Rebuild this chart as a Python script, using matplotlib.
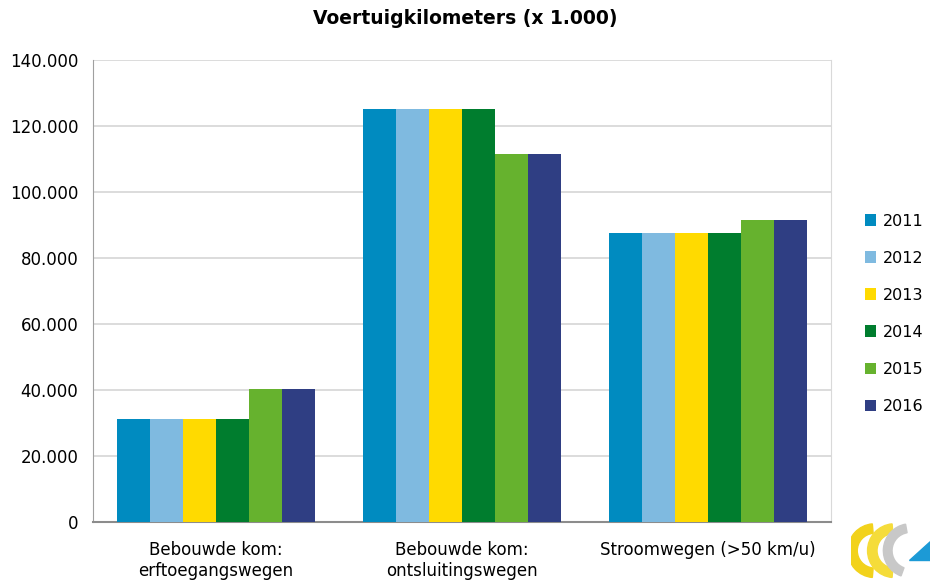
import matplotlib.pyplot as plt
import numpy as np
from matplotlib.ticker import FuncFormatter, MultipleLocator
from matplotlib.patches import Wedge, Polygon

categories = ["Bebouwde kom:\nerftoegangswegen", "Bebouwde kom:\nontsluitingswegen", "Stroomwegen (>50 km/u)"]
years = ["2011", "2012", "2013", "2014", "2015", "2016"]
values = {
    "2011": [31300, 125300, 87700],
    "2012": [31300, 125300, 87700],
    "2013": [31300, 125300, 87700],
    "2014": [31300, 125300, 87700],
    "2015": [40200, 111500, 91500],
    "2016": [40200, 111500, 91500],
}
colors = ["#008bc0", "#7fbae0", "#ffda00", "#007d2e", "#66b22e", "#2f3e83"]

fig = plt.figure(figsize=(9.3, 5.83), dpi=100)
ax = fig.add_axes([0.1, 0.1046, 0.7935, 0.7924])

x = np.arange(len(categories))
bw = 0.134
for i, yr in enumerate(years):
    ax.bar(x + (i - 2.5) * bw, values[yr], width=bw, color=colors[i], label=yr, zorder=3)

ax.set_xlim(-0.5, 2.5)
ax.set_ylim(0, 140000)
ax.yaxis.set_major_locator(MultipleLocator(20000))
ax.yaxis.set_major_formatter(FuncFormatter(lambda v, p: f"{v:,.0f}".replace(",", ".")))
ax.grid(axis="y", color="#d9d9d9", linewidth=1.3, zorder=0)
ax.set_xticks(x)
ax.set_xticklabels(categories, fontsize=12, linespacing=1.2)
ax.tick_params(axis="both", length=0, labelsize=12)
ax.tick_params(axis="x", pad=14)
ax.tick_params(axis="y", pad=10.5)
ax.spines["top"].set_visible(False)
ax.spines["left"].set_color("#a0a0a0")
ax.spines["right"].set_color("#d9d9d9")
ax.spines["bottom"].set_color("#8c8c8c")
ax.spines["bottom"].set_linewidth(1.5)

fig.text(0.5, 0.969, "Voertuigkilometers (x 1.000)", ha="center", va="center",
         fontsize=13.5, fontweight="bold")

fig.legend(loc="center left", bbox_to_anchor=(0.93, 0.462), frameon=False,
           fontsize=11.5, handlelength=0.7, handleheight=0.7, handletextpad=0.4,
           labelspacing=1.38, borderpad=0, borderaxespad=0)

# logo in the corner, rough approximation
lax = fig.add_axes([0.915, 0.0, 0.085, 0.115])
lax.set_xlim(0, 10)
lax.set_ylim(0, 7.5)
lax.set_aspect("equal")
lax.axis("off")
lax.add_patch(Wedge((3.0, 3.6), 3.4, 95, 265, width=1.2, color="#f2d21b"))
lax.add_patch(Wedge((5.5, 3.6), 3.4, 95, 265, width=1.2, color="#f5dc3a"))
lax.add_patch(Wedge((7.5, 3.6), 3.4, 100, 250, width=1.1, color="#c8c8c8"))
lax.add_patch(Polygon([[7.3, 2.4], [10, 2.4], [10, 4.8]], color="#1c9ad6"))

fig.savefig("out.png", dpi=100)
